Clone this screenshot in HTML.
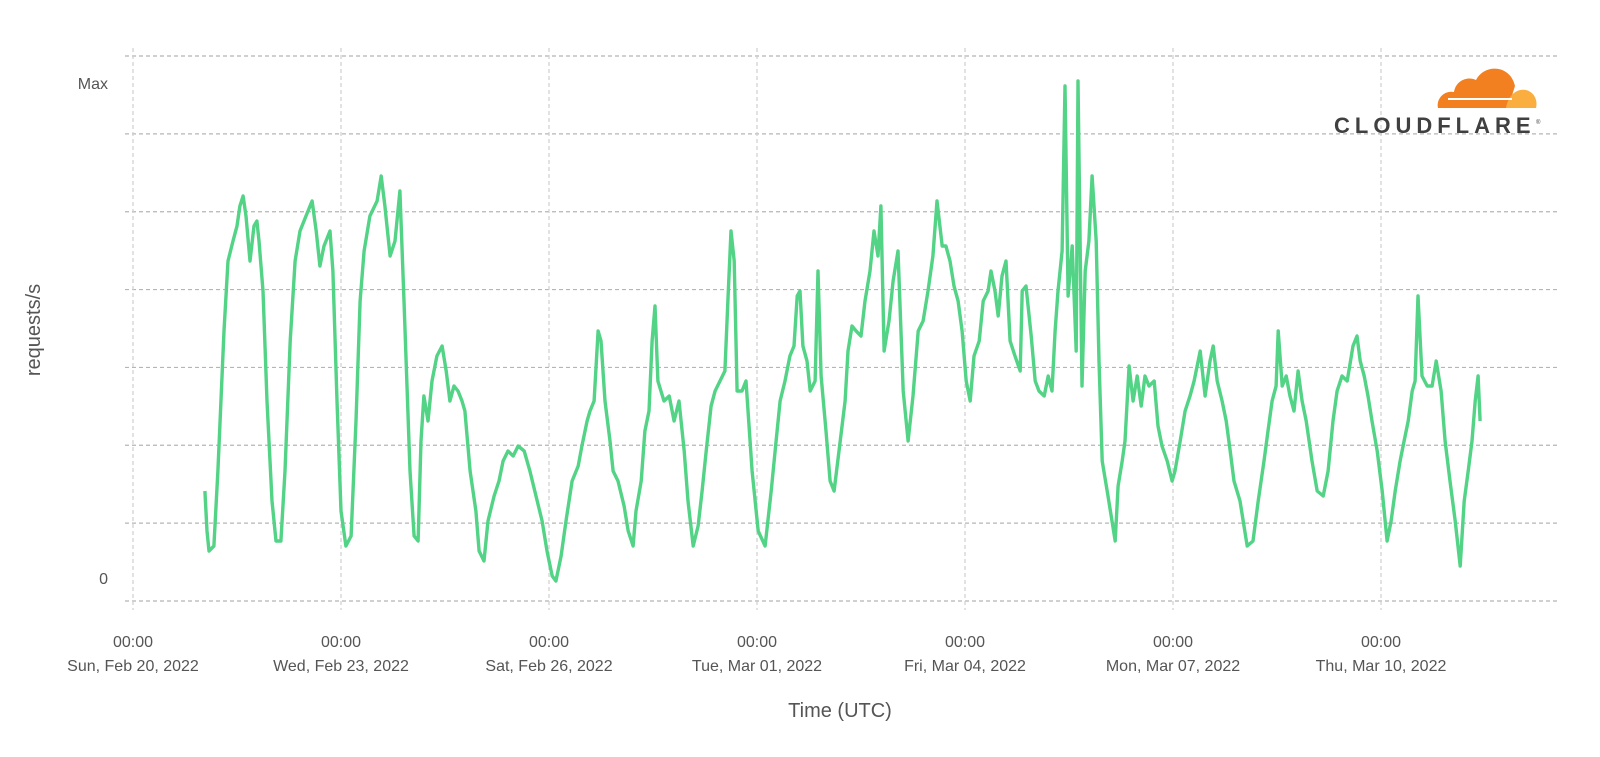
<!DOCTYPE html>
<html><head><meta charset="utf-8"><style>
html,body{margin:0;padding:0;background:#fff;}
svg{display:block;font-family:"Liberation Sans",sans-serif;}
</style></head><body>
<svg id="chart" width="1600" height="757" viewBox="0 0 1600 757">
<g id="grid"></g>
<g id="ylabels"></g>
<g id="xlabels"></g>
<text x="40" y="330" transform="rotate(-90 40 330)" text-anchor="middle" font-size="20" fill="#555">requests/s</text>
<text x="840" y="717" text-anchor="middle" font-size="20" fill="#555">Time (UTC)</text>
<g>
<path d="M1438,108 C1436,98 1445,90 1454,92 C1456,80 1468,76 1476,80 C1484,64 1510,64 1515,86 L1508,108 Z" fill="#f38020"/>
<path d="M1506,108 C1508,96 1516,88 1526,90 C1534,92 1538,100 1536,108 Z" fill="#faae40"/>
<line x1="1448" y1="99" x2="1512" y2="99" stroke="#fff" stroke-width="2"/>
<text x="1334" y="133" font-size="22" font-weight="bold" fill="#404041" letter-spacing="5">CLOUDFLARE</text>
<text x="1536" y="124" font-size="6" fill="#404041">®</text>
</g>
<path id="series" fill="none" stroke="#52d385" stroke-width="3.4" stroke-linejoin="round"/>
</svg>
<script>
// hours since Feb 20 2022 00:00 UTC
const hours = [24.9,25.6,26.3,28.0,29.4,31.5,32.9,34.6,36.0,37.0,38.1,39.1,40.5,41.9,42.9,43.6,45.0,46.4,48.1,49.5,51.2,52.6,54.4,56.1,57.8,59.9,62.0,63.4,64.7,66.1,68.2,69.2,70.6,72.0,73.7,75.5,77.2,78.6,80.0,82.0,84.5,85.9,87.2,89.0,90.7,92.4,93.8,95.9,97.3,98.7,99.7,100.7,102.1,103.5,105.2,107.0,108.4,109.7,111.1,112.5,113.9,114.9,116.7,118.7,119.8,121.5,122.9,125.0,126.7,128.1,129.8,131.6,133.3,135.4,137.4,139.5,141.6,143.3,145.1,146.4,148.2,149.9,152.0,154.1,155.4,157.2,158.2,159.6,161.0,162.0,163.4,165.1,166.2,167.9,170.0,171.4,173.1,174.1,175.9,177.2,178.6,179.7,180.7,181.7,183.8,185.6,187.3,189.0,190.8,192.1,193.9,195.6,197.0,198.4,200.1,201.5,203.2,204.9,206.0,207.0,208.1,209.1,210.8,212.2,214.3,216.4,218.8,220.9,222.6,224.0,225.7,227.4,228.8,229.9,230.9,231.9,233.3,234.4,236.1,237.1,238.2,239.9,241.3,242.7,244.4,246.5,247.5,248.9,250.3,252.0,253.4,255.1,256.5,257.9,258.9,260.0,261.7,263.1,264.8,266.6,268.3,270.0,271.8,273.5,275.2,276.9,278.3,280.1,281.4,282.8,284.2,285.6,287.0,288.4,289.8,291.1,292.9,294.3,296.0,297.0,298.4,299.5,300.8,302.2,303.6,305.3,307.1,307.8,309.1,310.9,312.3,313.6,315.4,316.8,318.1,319.2,320.2,321.6,322.6,323.7,325.1,326.5,327.1,328.5,329.6,330.9,332.0,333.4,334.4,335.5,337.5,338.9,340.0,341.0,342.4,343.4,344.8,346.2,347.6,349.0,350.3,351.7,353.5,354.8,356.2,358.0,359.7,360.7,362.5,364.2,365.9,367.3,369.4,371.1,372.8,373.9,375.3,377.0,378.4,379.8,381.1,383.2,385.7,387.7,389.5,391.5,392.9,394.3,395.7,396.4,397.8,399.2,400.5,401.9,403.3,404.7,406.1,408.1,409.9,412.0,413.7,415.4,416.8,418.5,420.3,422.3,423.7,424.8,426.2,427.5,428.9,430.7,432.4,434.1,435.5,436.9,438.6,440.0,441.4,442.8,443.8,444.8,446.2,448.0,449.7,451.1,452.8,454.2,455.9,457.7,459.4,460.8,462.2,463.5,464.6,465.6,466.3];
// relative request rate (0..109 scale, Max ~ 103)
const values = [22,14,10,11,26,54,68,72,75,79,81,77,68,75,76,72,62,40,20,12,12,26,52,68,74,77,80,74,67,71,74,66,40,18,11,13,36,60,70,77,80,85,79,69,72,82,60,26,13,12,32,41,36,44,49,51,46,40,43,42,40,38,26,18,10,8,16,21,24,28,30,29,31,30,26,21,16,10,5,4,9,16,24,27,31,36,38,40,54,52,40,32,26,24,19,14,11,18,24,34,38,52,59,44,40,41,36,40,30,20,11,15,22,30,39,42,44,46,61,74,68,42,42,44,26,14,11,22,32,40,44,49,51,61,62,51,48,42,44,66,45,34,24,22,30,40,50,55,54,53,60,66,74,69,79,50,56,64,70,42,32,41,54,56,62,69,80,71,71,68,63,60,54,44,40,49,52,60,62,66,62,57,65,68,52,49,46,62,63,53,44,42,41,45,42,54,62,70,103,61,71,50,104,43,66,72,85,72,48,28,21,16,12,23,28,32,47,40,45,39,45,43,44,35,31,28,24,26,32,38,41,44,50,41,48,51,44,40,36,30,24,20,11,12,20,28,34,40,43,54,43,45,41,38,46,40,36,28,22,21,26,36,42,45,44,51,53,48,45,41,36,30,22,12,16,22,28,32,36,42,44,61,45,43,43,48,42,32,24,16,7,20,26,32,40,45,36];
const xTickHours = [0,72,144,216,288,360,432];
const xTickTimes = ["00:00","00:00","00:00","00:00","00:00","00:00","00:00"];
const xTickDates = ["Sun, Feb 20, 2022","Wed, Feb 23, 2022","Sat, Feb 26, 2022","Tue, Mar 01, 2022","Fri, Mar 04, 2022","Mon, Mar 07, 2022","Thu, Mar 10, 2022"];
const yTickValues = [4.6,103.6];
const yTickLabels = ["0","Max"];

const NS="http://www.w3.org/2000/svg";
const X0=133, PXH=208/72, YB=601, PXV=5;
function xs(h){return X0+h*PXH;}
function ys(v){return YB-v*PXV;}

const grid=document.getElementById('grid');
for(let k=0;k<8;k++){
  const y=YB-k*545/7;
  const l=document.createElementNS(NS,'line');
  
  
  l.setAttribute('x1',125);l.setAttribute('x2',1557);l.setAttribute('y1',y);l.setAttribute('y2',y);
  l.setAttribute('stroke','#b5b5b5');l.setAttribute('stroke-dasharray','4 3');l.setAttribute('stroke-width','1.2');
  grid.appendChild(l);
}
const xl=document.getElementById('xlabels');
xTickHours.forEach((h,i)=>{
  const x=xs(h);
  const l=document.createElementNS(NS,'line');
  
  
  l.setAttribute('x1',x);l.setAttribute('x2',x);l.setAttribute('y1',48);l.setAttribute('y2',610);
  l.setAttribute('stroke','#cfcfcf');l.setAttribute('stroke-dasharray','4 3');l.setAttribute('stroke-width','1.2');
  grid.appendChild(l);
  const t1=document.createElementNS(NS,'text');
  
  
  t1.setAttribute('x',x);t1.setAttribute('y',647);t1.setAttribute('text-anchor','middle');
  t1.setAttribute('font-size','16');t1.setAttribute('fill','#555');t1.textContent=xTickTimes[i];
  xl.appendChild(t1);
  const t2=document.createElementNS(NS,'text');
  
  
  t2.setAttribute('x',x);t2.setAttribute('y',671);t2.setAttribute('text-anchor','middle');
  t2.setAttribute('font-size','16');t2.setAttribute('fill','#555');t2.textContent=xTickDates[i];
  xl.appendChild(t2);
});
const yl=document.getElementById('ylabels');
yTickValues.forEach((v,i)=>{
  const t=document.createElementNS(NS,'text');
  
  
  t.setAttribute('x',108);t.setAttribute('y',ys(v)+6);t.setAttribute('text-anchor','end');
  t.setAttribute('font-size','16');t.setAttribute('fill','#555');t.textContent=yTickLabels[i];
  yl.appendChild(t);
});
let d='';
hours.forEach((h,i)=>{d+=(i?'L':'M')+xs(h).toFixed(1)+','+ys(values[i]).toFixed(1);});
document.getElementById('series').setAttribute('d',d);
</script>
</body></html>
